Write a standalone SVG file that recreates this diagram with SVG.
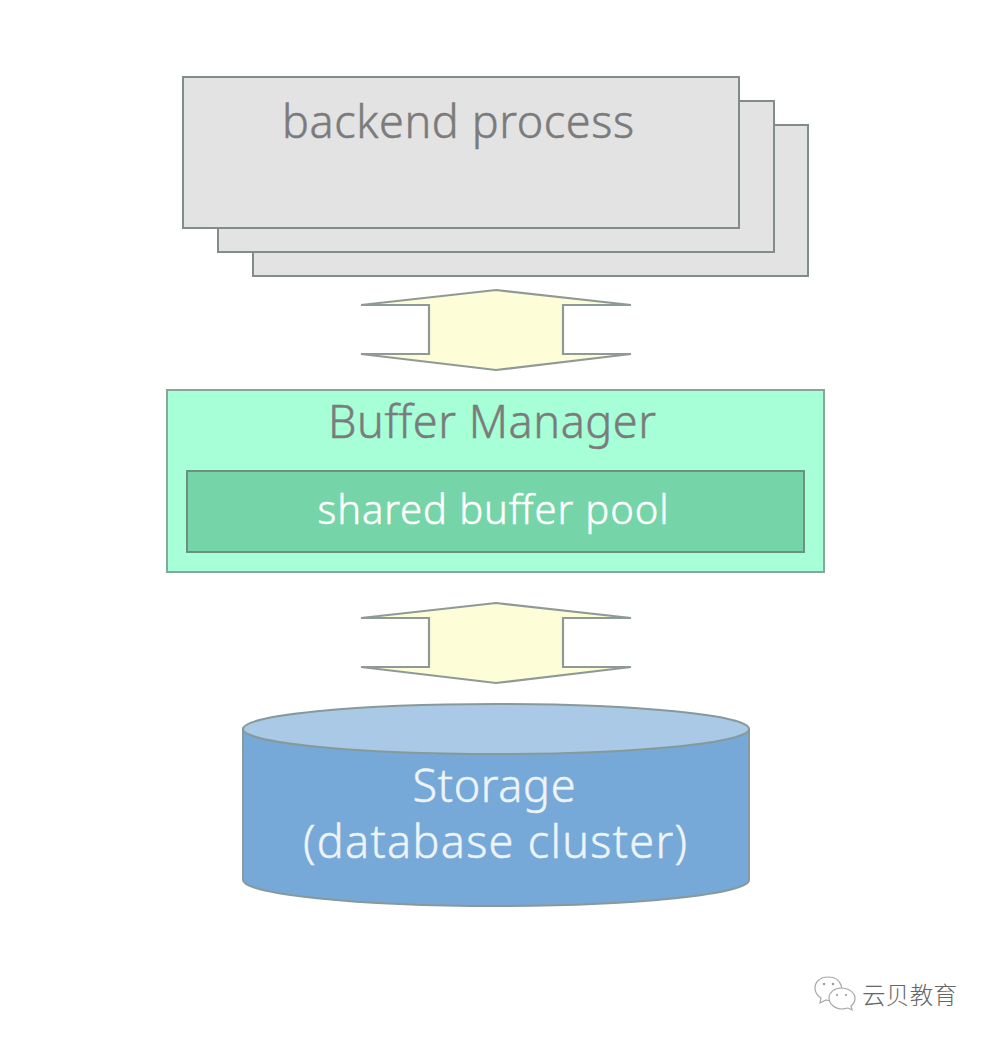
<svg xmlns="http://www.w3.org/2000/svg" width="988" height="1038" viewBox="0 0 988 1038">
<style>
.t{font-family:"Noto Sans","Open Sans","Liberation Sans",sans-serif;text-anchor:middle;font-weight:300;stroke-width:.5}
.b{fill:#e3e3e3;stroke:#828c8a;stroke-width:2}
.a{fill:#fdfdd8;stroke:#8f9a97;stroke-width:2.2;stroke-linejoin:miter;stroke-miterlimit:4}
.w{fill:#fff;stroke:#a8a8a8;stroke-width:1.2}
.d{fill:#999}
</style>
<rect width="988" height="1038" fill="#fff"/>
<g id="backend-process">
<rect class="b" x="253" y="125" width="555" height="151"/>
<rect class="b" x="218" y="101" width="556" height="151"/>
<rect class="b" x="183" y="77" width="556" height="151"/>
<text class="t" x="458" y="138" font-size="45" fill="#7b7b7b" stroke="#7b7b7b" textLength="352">backend process</text>
</g>
<g id="connectors">
<path class="a" d="M496 290L631 305H563V354H631L496 370L361 354H429V305H361Z"/>
<path class="a" d="M496 603L631 618H563V667H631L496 683L361 667H429V618H361Z"/>
</g>
<g id="buffer-manager">
<rect x="167" y="390" width="657" height="182" fill="#a6ffd6" stroke="#86a89a" stroke-width="2"/>
<text class="t" x="492" y="438" font-size="45" fill="#7b7b7b" stroke="#7b7b7b" textLength="328">Buffer Manager</text>
</g>
<g id="shared-buffer-pool">
<rect x="187" y="471" width="617" height="81" fill="#75d5a8" stroke="#6f8f80" stroke-width="2"/>
<text class="t" x="493" y="524" font-size="40" fill="#fff" stroke="#fff" textLength="351">shared buffer pool</text>
</g>
<g id="storage">
<path d="M243 729V880C243 894 356 906 496 906S749 894 749 880V729Z" fill="#76a9d7" stroke="#869a9a" stroke-width="2"/>
<ellipse cx="496" cy="729" rx="253" ry="25" fill="#a9c9e6" stroke="#869a9a" stroke-width="2"/>
<text class="t" x="494" y="802" font-size="45" fill="#eef3f8" stroke="#eef3f8" textLength="163">Storage</text>
<text class="t" x="495" y="858" font-size="45" fill="#eef3f8" stroke="#eef3f8" textLength="384">(database cluster)</text>
</g>
<g id="watermark">
<path class="w" d="M828 977C820 977 815 982 815 988C815 993 818 996 821 998L820 1003L826 1000C830 1001 834 1001 838 999C845 993 843 977 828 977Z"/>
<path class="w" d="M841 988C834 988 829 993 829 998C829 1004 835 1009 842 1009C844 1009 846 1008 848 1008L852 1010L851 1006C854 1004 855 1001 855 998C855 993 849 988 841 988Z"/>
<circle class="d" cx="824" cy="984" r="1.2"/><circle class="d" cx="833" cy="984" r="1.2"/>
<circle class="d" cx="837" cy="995" r="1.1"/><circle class="d" cx="846" cy="995" r="1.1"/>
<text x="862" y="1004" font-size="23.5" fill="#666" font-weight="300" font-family="Noto Sans CJK SC,sans-serif" textLength="95">云贝教育</text>
</g>
</svg>
